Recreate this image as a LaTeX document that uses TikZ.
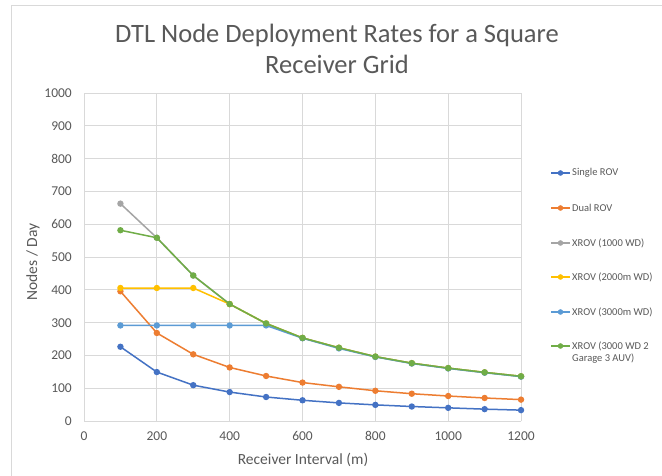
\documentclass[tikz,border=0pt]{standalone}
\usepackage{fontspec}
\setmainfont{Carlito}
\definecolor{cSingle}{HTML}{4472C4}
\definecolor{cDual}{HTML}{ED7D31}
\definecolor{cGray}{HTML}{A5A5A5}
\definecolor{cYellow}{HTML}{FFC000}
\definecolor{cLBlue}{HTML}{5B9BD5}
\definecolor{cGreen}{HTML}{70AD47}
\definecolor{gridc}{HTML}{D9D9D9}
\definecolor{txt}{HTML}{595959}
\tikzset{
  series/.style={line width=1.5pt, color=#1, mark=*, mark size=2.4pt, mark options={fill=#1, draw=#1}},
  ticklab/.style={font=\fontsize{13.5}{16}\selectfont, text=txt, inner sep=0pt},
  legtext/.style={font=\fontsize{10.5}{13}\selectfont, text=txt, anchor=west, inner sep=0pt, align=left},
  legline/.style={line width=1.5pt, color=#1},
  legmark/.style={fill=#1, draw=#1, circle, inner sep=0pt, minimum size=5pt},
  axtitle/.style={font=\fontsize{15.5}{18}\selectfont, text=txt}
}
\begin{document}
\begin{tikzpicture}[x=1pt,y=1pt]
\useasboundingbox (0,0) rectangle (662,476);
\fill[white] (0,0) rectangle (662,476);
% chart border
\draw[gridc, line width=1pt] (11,0) -- (11,470) -- (662,470);
% title
\node[font=\fontsize{26.5}{31}\selectfont, text=txt, align=center] (title) at (337,427.5) {DTL Node Deployment Rates for a Square\\Receiver Grid};
\begin{scope}[shift={(84,54.7)}, x=0.3642pt, y=0.3283pt]
  % grid
  \foreach \v in {100,200,...,1000} \draw[gridc, line width=1pt] (0,\v) -- (1200,\v);
  \foreach \u in {200,400,...,1200} \draw[gridc, line width=1pt] (\u,0) -- (\u,1000);
  \draw[gridc, line width=1pt] (0,0) -- (1200,0);
  \draw[gridc, line width=1pt] (0,0) -- (0,1000);
  % tick labels
  \foreach \v in {0,100,...,1000} \node[ticklab, anchor=east] (yl\v) at (-33,\v) {\v};
  \foreach \u in {0,200,...,1200} \node[ticklab, anchor=north] (xl\u) at (\u,-30) {\u};
  % series
  \draw[series=cSingle] plot coordinates {(100,227) (200,150) (300,110) (400,89) (500,74) (600,64) (700,56) (800,50) (900,45) (1000,41) (1100,37) (1200,34)};
  \draw[series=cDual] plot coordinates {(100,396) (200,269) (300,204) (400,164) (500,138) (600,118) (700,105) (800,93) (900,84) (1000,77) (1100,71) (1200,66)};
  \draw[series=cGray] plot coordinates {(100,663) (200,559) (300,444) (400,357) (500,298) (600,254) (700,224) (800,197) (900,177) (1000,162) (1100,149) (1200,137)};
  \draw[series=cYellow] plot coordinates {(100,406) (200,406) (300,406) (400,357) (500,298) (600,254) (700,224) (800,197) (900,177) (1000,162) (1100,149) (1200,137)};
  \draw[series=cLBlue] plot coordinates {(100,292) (200,292) (300,292) (400,292) (500,292) (600,253) (700,222) (800,196) (900,176) (1000,161) (1100,148) (1200,136)};
  \draw[series=cGreen] plot coordinates {(100,582) (200,559) (300,444) (400,357) (500,298) (600,254) (700,224) (800,197) (900,177) (1000,162) (1100,149) (1200,137)};
\end{scope}
% axis titles
\node[axtitle, rotate=90] (ytitle) at (33,214) {Nodes / Day};
\node[axtitle] (xtitle) at (303,16) {Receiver Interval (m)};
% legend
\foreach \c/\y/\t [count=\i] in {cSingle/303/Single ROV, cDual/268/Dual ROV, cGray/233/XROV (1000 WD), cYellow/199/XROV (2000m WD), cLBlue/164/XROV (3000m WD), cGreen/130/XROV (3000 WD 2} {
  \draw[legline=\c] (551,\y) -- (570,\y);
  \node[legmark=\c] (lm\i) at (560.5,\y) {};
  \node[legtext] (lt\i) at (572,\y) {\t};
}
\node[legtext] (lt7) at (572,117) {Garage 3 AUV)};
\end{tikzpicture}
\end{document}
